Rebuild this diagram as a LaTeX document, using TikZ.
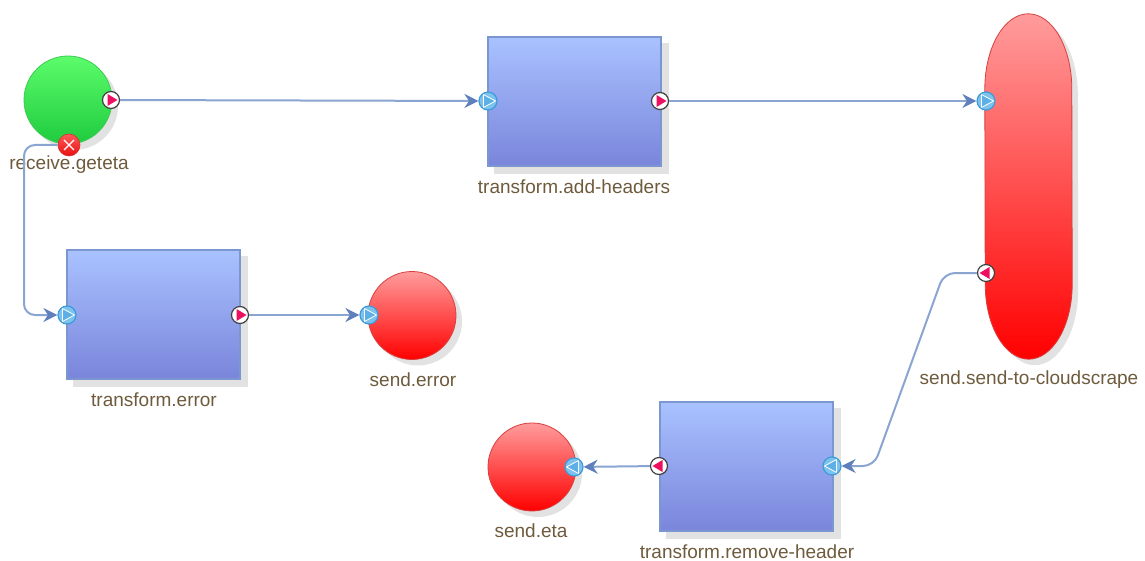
\documentclass[tikz,border=0pt]{standalone}
\usepackage{fontspec}
\setmainfont{Liberation Sans}
\usetikzlibrary{backgrounds,arrows.meta,calc}
\definecolor{shadowgray}{HTML}{E2E2E2}
\definecolor{edgeblue}{HTML}{8BA5D2}
\definecolor{tipblue}{HTML}{5F7FBD}
\definecolor{labelbrown}{HTML}{6E5A3C}
\definecolor{pinkred}{HTML}{EE1060}
\definecolor{procTop}{HTML}{A9C2FF}
\definecolor{procBot}{HTML}{7A85DB}
\definecolor{procEdge}{HTML}{7A97D0}
\definecolor{startTop}{HTML}{5CFC6A}
\definecolor{startBot}{HTML}{1FCB3F}
\definecolor{startEdge}{HTML}{3CCB55}
\definecolor{endTop}{HTML}{FF9C9C}
\definecolor{endBot}{HTML}{FF0000}
\definecolor{endEdge}{HTML}{D84040}
\definecolor{portEdge}{HTML}{3F9BD8}
\definecolor{portFill}{HTML}{7CC2EE}
\definecolor{portTri}{HTML}{5DB0E6}
\definecolor{errEdge}{HTML}{D83030}
\definecolor{errTop}{HTML}{FF5A5A}
\definecolor{errBot}{HTML}{E80F0F}
\tikzset{
  x=1pt,y=-1pt,
  procbox/.style={rectangle,draw=procEdge,line width=1.6pt,top color=procTop,bottom color=procBot,minimum width=173pt,minimum height=129pt,inner sep=0pt},
  startnode/.style={circle,draw=startEdge,line width=.8pt,top color=startTop,bottom color=startBot,minimum size=88pt,inner sep=0pt},
  endnode/.style={circle,draw=endEdge,line width=.8pt,top color=endTop,bottom color=endBot,minimum size=88pt,inner sep=0pt},
  pillframe/.style={rectangle,minimum width=87pt,minimum height=345pt,inner sep=0pt},
  lab/.style={text=labelbrown,font=\fontsize{19}{21}\selectfont,inner sep=0pt,anchor=center},
  outR/.style={circle,draw=black!75,fill=white,line width=1.2pt,minimum size=17pt,inner sep=0pt,
    path picture={\fill[pinkred] ($(path picture bounding box.center)+(-3.5,-6)$) -- ++(10,6) -- ++(-10,6) -- cycle;}},
  outL/.style={circle,draw=black!75,fill=white,line width=1.2pt,minimum size=17pt,inner sep=0pt,
    path picture={\fill[pinkred] ($(path picture bounding box.center)+(3.5,-6)$) -- ++(-10,6) -- ++(10,6) -- cycle;}},
  inR/.style={circle,draw=portEdge,fill=portFill,line width=1.2pt,minimum size=18pt,inner sep=0pt,
    path picture={\draw[white,fill=portTri,line width=.8pt] ($(path picture bounding box.center)+(-4.5,-6.5)$) -- ++(12,6.5) -- ++(-12,6.5) -- cycle;}},
  inL/.style={circle,draw=portEdge,fill=portFill,line width=1.2pt,minimum size=18pt,inner sep=0pt,
    path picture={\draw[white,fill=portTri,line width=.8pt] ($(path picture bounding box.center)+(4.5,-6.5)$) -- ++(-12,6.5) -- ++(12,6.5) -- cycle;}},
  errport/.style={circle,draw=errEdge,line width=.6pt,top color=errTop,bottom color=errBot,minimum size=22pt,inner sep=0pt,
    path picture={\draw[white,line width=1.3pt] ($(path picture bounding box.center)+(-5,-5)$) -- ++(10,10) ($(path picture bounding box.center)+(5,-5)$) -- ++(-10,10);}},
  link/.style={draw=edgeblue,line width=2pt,rounded corners=11pt,-{Stealth[length=14pt,width=14pt,color=tipblue]}},
  castshade/.style={fill=shadowgray,draw=none},
}
\begin{document}
\begin{tikzpicture}
\useasboundingbox (0,0) rectangle (1145,561);
% shapes
\node[startnode] (recv) at (68,100) {};
\node[procbox] (addh) at (574.5,101.5) {};
\node[pillframe] (cloud) at (1028.5,186.5) {};
\path[draw=endEdge,line width=.8pt,top color=endTop,bottom color=endBot]
  ($(cloud.north west)+(0,75)$) arc[start angle=180,end angle=0,x radius=43.5pt,y radius=75pt]
  -- ($(cloud.south east)+(0,-75)$) arc[start angle=360,end angle=180,x radius=43.5pt,y radius=75pt] -- cycle;
\node[procbox] (terr) at (153.5,314.5) {};
\node[endnode] (serr) at (412,315.5) {};
\node[procbox] (rmh) at (746.5,466.5) {};
\node[endnode] (seta) at (532,467) {};
% cast shadows behind the shapes
\begin{scope}[on background layer]
  \path[castshade] ($(recv)+(6,6)$) circle (44);
  \path[castshade] ($(serr)+(6,6)$) circle (44);
  \path[castshade] ($(seta)+(6,6)$) circle (44);
  \path[castshade] ($(addh.north west)+(7,7)$) rectangle ($(addh.south east)+(7,7)$);
  \path[castshade] ($(terr.north west)+(7,7)$) rectangle ($(terr.south east)+(7,7)$);
  \path[castshade] ($(rmh.north west)+(7,7)$) rectangle ($(rmh.south east)+(7,7)$);
  \path[castshade] ($(cloud.north west)+(6,81)$) arc[start angle=180,end angle=0,x radius=43.5pt,y radius=75pt]
    -- ($(cloud.south east)+(6,-69)$) arc[start angle=360,end angle=180,x radius=43.5pt,y radius=75pt] -- cycle;
\end{scope}
% labels
\node[lab] (lrecv) at (69,165) {receive.geteta};
\node[lab] (laddh) at (574,187) {transform.add-headers};
\node[lab] (lcloud) at (1029,380) {send.send-to-cloudscrape};
\node[lab] (lterr) at (154,400) {transform.error};
\node[lab] (lserr) at (413,380) {send.error};
\node[lab] (lseta) at (531,531) {send.eta};
\node[lab] (lrmh) at (747,552) {transform.remove-header};
% ports
\node[outR] (recvOut) at (111,100) {};
\node[errport] (recvErr) at (69,145) {};
\node[inR] (addhIn) at (488,101) {};
\node[outR] (addhOut) at (660,101) {};
\node[inR] (cloudIn) at (986,101) {};
\node[outL] (cloudOut) at (986,273) {};
\node[inR] (terrIn) at (67,315) {};
\node[outR] (terrOut) at (240,315) {};
\node[inR] (serrIn) at (369,315) {};
\node[outL] (rmhOut) at (659,466) {};
\node[inL] (rmhIn) at (832,466) {};
\node[inL] (setaIn) at (574,467) {};
% way points
\coordinate (w1) at (24,145);
\coordinate (w2) at (24,315);
\coordinate (w3) at (944,273);
\coordinate (w4) at (874,466);
% connectors
\draw[link] (recvOut) -- (addhIn);
\draw[link] (addhOut) -- (cloudIn);
\draw[link] (recvErr) -- (w1) -- (w2) -- (terrIn);
\draw[link] (terrOut) -- (serrIn);
\draw[link] (cloudOut) -- (w3) -- (w4) -- (rmhIn);
\draw[link] (rmhOut) -- (setaIn);
\end{tikzpicture}
\end{document}
